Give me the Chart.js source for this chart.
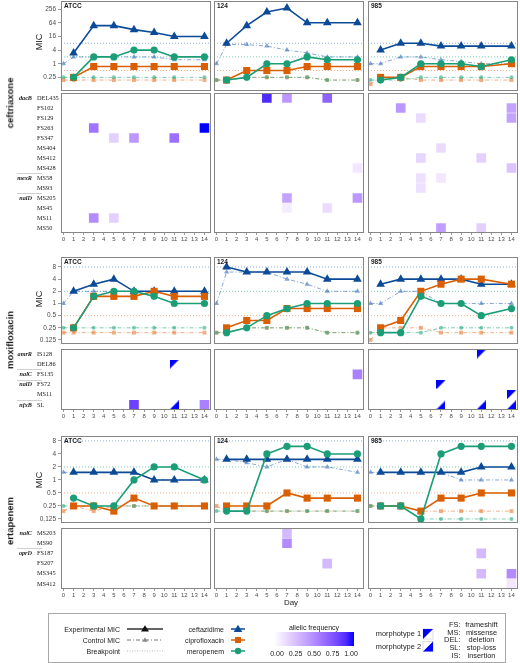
<!DOCTYPE html>
<html>
<head>
<meta charset="utf-8">
<title>MIC and allelic frequency</title>
<script src="https://cdn.jsdelivr.net/npm/chart.js"></script>
<style>
  body { margin: 0; background: #fff; }
  #page { position: relative; width: 520px; height: 663px; overflow: hidden; font-family: "Liberation Sans", Arial, sans-serif; color: #1a1a1a; }
  #page canvas { position: absolute; }
  .t { position: absolute; white-space: nowrap; line-height: 1; }
  .rot { position: absolute; white-space: nowrap; line-height: 1; transform: translate(-50%, -50%) rotate(-90deg); }
  #legendBox { position: absolute; left: 48px; top: 613px; width: 456px; height: 48px; border: 1px solid #a8a8a8; }
  #grad { position: absolute; left: 274px; top: 632px; width: 80px; height: 14px; }
</style>
</head>
<body>
<div id="page"><div id="legendBox"></div><div id="grad"></div></div>
<script>
// ---- data ----
const days = [0, 1, 3, 5, 7, 9, 11, 14];
const dayTicks = [0, 1, 2, 3, 4, 5, 6, 7, 8, 9, 10, 11, 12, 13, 14];
const strains = ['ATCC', '124', '985'];
const drugRows = ['ceftriaxone', 'moxifloxacin', 'ertapenem'];
const cefMicTicks = [0.25, 1, 4, 16, 64, 256];
const otherMicTicks = [0.125, 0.25, 0.5, 1, 2, 4, 8];
const bpDrugs = ['ceftazidime', 'ciprofloxacin', 'meropenem'];
const bpValues = [8, 0.5, 2];

// ceftriaxone
const cefAtccCaz = [null, 3, 48, 48, 32, 24, 16, 16];
const cefAtccCip = [null, 0.25, 0.75, 0.75, 0.75, 0.75, 0.75, 0.75];
const cefAtccMer = [null, 0.25, 2, 2, 4, 4, 2, 2];
const cefAtccCazCtl = [1, 2, 2, 2, 2, 2, 1.5, 1.5];
const cefAtccCipCtl = [0.19, 0.19, 0.19, 0.19, 0.19, 0.19, 0.19, 0.19];
const cefAtccMerCtl = [0.25, 0.25, 0.25, 0.25, 0.25, 0.25, 0.25, 0.25];
const cef124Caz = [null, 8, 48, 192, 288, 64, 64, 64];
const cef124Cip = [null, 0.19, 0.5, 0.5, 0.5, 0.75, 0.75, 0.75];
const cef124Mer = [null, 0.19, 0.25, 1, 1, 2, 1.5, 1.5];
const cef124CazCtl = [1, 7, 7, 6, 4, 3, 2, 2];
const cef124CipCtl = [0.19, 0.19, 0.25, 0.25, 0.25, 0.25, 0.19, 0.19];
const cef124MerCtl = [0.19, 0.19, 0.25, 0.25, 0.25, 0.25, 0.19, 0.19];
const cef985Caz = [null, 4, 8, 8, 6, 6, 6, 6];
const cef985Cip = [null, 0.25, 0.25, 0.75, 0.75, 0.75, 0.75, 1];
const cef985Mer = [null, 0.19, 0.25, 1, 1, 1, 0.75, 1.5];
const cef985CazCtl = [1, 1, 2, 2, 1.5, 1.25, 1, 1];
const cef985CipCtl = [0.125, 0.25, 0.25, 0.19, 0.19, 0.19, 0.19, 0.19];
const cef985MerCtl = [0.19, 0.19, 0.19, 0.25, 0.25, 0.25, 0.25, 0.25];

// moxifloxacin
const moxAtccCaz = [null, 2, 3, 4, 2, 2, 2, 2];
const moxAtccCip = [null, 0.25, 1.5, 1.5, 1.5, 2, 1.5, 1.5];
const moxAtccMer = [null, 0.25, 1.5, 2, 2, 1.5, 1, 1];
const moxAtccCazCtl = [1, 2, 2, 2, 2, 2, 2, 2];
const moxAtccCipCtl = [0.19, 0.19, 0.19, 0.19, 0.19, 0.19, 0.19, 0.19];
const moxAtccMerCtl = [0.25, 0.25, 0.25, 0.25, 0.25, 0.25, 0.25, 0.25];
const mox124Caz = [null, 8, 6, 6, 6, 6, 4, 4];
const mox124Cip = [null, 0.25, 0.38, 0.38, 0.75, 0.75, 0.75, 0.75];
const mox124Mer = [null, 0.19, 0.25, 0.5, 0.75, 1, 1, 1];
const mox124CazCtl = [1, 6, 6, 6, 4, 3, 2, 2];
const mox124CipCtl = [0.19, 0.19, 0.25, 0.25, 0.25, 0.25, 0.19, 0.19];
const mox124MerCtl = [0.19, 0.19, 0.25, 0.25, 0.25, 0.25, 0.19, 0.19];
const mox985Caz = [null, 3, 4, 4, 4, 4, 3, 3];
const mox985Cip = [null, 0.25, 0.38, 2, 3, 4, 4, 3];
const mox985Mer = [null, 0.19, 0.19, 1.5, 1, 1, 0.5, 0.75];
const mox985CazCtl = [1, 1, 2, 2, 1, 1, 1, 1];
const mox985CipCtl = [0.125, 0.25, 0.25, 0.25, 0.19, 0.19, 0.19, 0.19];
const mox985MerCtl = [0.19, 0.19, 0.19, 0.19, 0.25, 0.25, 0.25, 0.25];

// ertapenem
const ertAtccCaz = [null, 1.5, 1.5, 1.5, 1.5, 1, 1, 1];
const ertAtccCip = [null, 0.25, 0.25, 0.19, 0.38, 0.25, 0.25, 0.25];
const ertAtccMer = [null, 0.38, 0.25, 0.25, 1, 2, 2, 1];
const ertAtccCazCtl = [1.5, 1.5, 1.5, 1.5, 1.5, 1, 1, 1];
const ertAtccCipCtl = [0.19, 0.25, 0.19, 0.25, 0.25, 0.25, 0.25, 0.25];
const ertAtccMerCtl = [0.25, 0.25, 0.25, 0.25, 0.25, 0.25, 0.25, 0.25];
const ert124Caz = [null, 3, 3, 3, 3, 3, 3, 3];
const ert124Cip = [null, 0.25, 0.25, 0.25, 0.5, 0.38, 0.38, 0.38];
const ert124Mer = [null, 0.19, 0.19, 4, 6, 6, 4, 4];
const ert124CazCtl = [3, 3, 2.5, 2, 3, 2, 2, 1.5];
const ert124CipCtl = [0.25, 0.19, 0.19, 0.19, 0.19, 0.19, 0.19, 0.19];
const ert124MerCtl = [0.19, 0.19, 0.19, 0.19, 0.19, 0.19, 0.19, 0.19];
const ert985Caz = [null, 1.5, 1.5, 1.5, 1.5, 1.5, 2, 2];
const ert985Cip = [null, 0.25, 0.25, 0.19, 0.38, 0.38, 0.5, 0.5];
const ert985Mer = [null, 0.25, 0.25, 0.125, 4, 6, 6, 6];
const ert985CazCtl = [1.5, 1.5, 1.5, 1.5, 1.5, 1, 1, 1];
const ert985CipCtl = [0.25, 0.25, 0.25, 0.19, 0.19, 0.19, 0.19, 0.19];
const ert985MerCtl = [0.25, 0.25, 0.25, 0.125, 0.125, 0.125, 0.125, 0.125];

// mutations (rows of the heatmaps) and gene groups
const cefMutations = ['DEL435', 'FS102', 'FS129', 'FS263', 'FS347', 'MS404', 'MS412', 'MS428', 'MS58', 'MS93', 'MS205', 'MS45', 'MS11', 'MS50'];
const cefGenes = [['dacB', 'DEL435'], ['mexR', 'MS58'], ['nalD', 'MS205']];
const moxMutations = ['IS128', 'DEL86', 'FS135', 'FS72', 'MS11', 'SL'];
const moxGenes = [['amrR', 'IS128'], ['nalC', 'FS135'], ['nalD', 'FS72'], ['nfxB', 'SL']];
const ertMutations = ['MS203', 'MS90', 'FS187', 'FS207', 'MS345', 'MS412'];
const ertGenes = [['nalC', 'MS203'], ['oprD', 'FS187']];

// allelic frequency tiles: [day, mutation, frequency]
const cefAtccFreq = [[3, 'FS263', 0.6], [14, 'FS263', 1.0], [5, 'FS347', 0.2], [7, 'FS347', 0.45], [11, 'FS347', 0.62], [3, 'MS11', 0.5], [5, 'MS11', 0.2]];
const cef124Freq = [[5, 'DEL435', 0.9], [7, 'DEL435', 0.45], [11, 'DEL435', 0.68], [14, 'MS428', 0.1], [7, 'MS205', 0.4], [14, 'MS205', 0.45], [7, 'MS45', 0.08], [11, 'MS45', 0.15]];
const cef985Freq = [[3, 'FS102', 0.45], [14, 'FS102', 0.4], [14, 'FS129', 0.4], [5, 'FS129', 0.15], [7, 'MS404', 0.15], [5, 'MS412', 0.18], [11, 'MS412', 0.2], [14, 'MS428', 0.25], [5, 'MS58', 0.13], [5, 'MS93', 0.13], [7, 'MS58', 0.1], [7, 'MS50', 0.42], [11, 'MS50', 0.2]];
const moxAtccFreq = [[7, 'SL', 0.82], [14, 'SL', 0.55]];
const mox124Freq = [[14, 'FS135', 0.55]];
const mox985Freq = [];
const ertAtccFreq = [];
const ert124Freq = [[7, 'MS203', 0.3], [7, 'MS90', 0.5], [11, 'FS207', 0.3]];
const ert985Freq = [[11, 'FS187', 0.3], [11, 'MS345', 0.3], [14, 'MS345', 0.5], [14, 'MS412', 0.1]];

// morphotype-resolved calls: [day, mutation, morphotype]
const moxAtccMorph = [[11, 'DEL86', 1], [11, 'SL', 2]];
const mox124Morph = [];
const mox985Morph = [[11, 'IS128', 1], [7, 'FS72', 1], [14, 'MS11', 1], [7, 'SL', 2], [11, 'SL', 2], [14, 'SL', 2]];

// ---- tables built from the arrays ----
const micRows = [
  [[cefAtccCaz, cefAtccCip, cefAtccMer, cefAtccCazCtl, cefAtccCipCtl, cefAtccMerCtl],
   [cef124Caz, cef124Cip, cef124Mer, cef124CazCtl, cef124CipCtl, cef124MerCtl],
   [cef985Caz, cef985Cip, cef985Mer, cef985CazCtl, cef985CipCtl, cef985MerCtl]],
  [[moxAtccCaz, moxAtccCip, moxAtccMer, moxAtccCazCtl, moxAtccCipCtl, moxAtccMerCtl],
   [mox124Caz, mox124Cip, mox124Mer, mox124CazCtl, mox124CipCtl, mox124MerCtl],
   [mox985Caz, mox985Cip, mox985Mer, mox985CazCtl, mox985CipCtl, mox985MerCtl]],
  [[ertAtccCaz, ertAtccCip, ertAtccMer, ertAtccCazCtl, ertAtccCipCtl, ertAtccMerCtl],
   [ert124Caz, ert124Cip, ert124Mer, ert124CazCtl, ert124CipCtl, ert124MerCtl],
   [ert985Caz, ert985Cip, ert985Mer, ert985CazCtl, ert985CipCtl, ert985MerCtl]]
];
const heatRows = [
  {muts: cefMutations, genes: cefGenes, freq: [cefAtccFreq, cef124Freq, cef985Freq], morph: [[], [], []]},
  {muts: moxMutations, genes: moxGenes, freq: [moxAtccFreq, mox124Freq, mox985Freq], morph: [moxAtccMorph, mox124Morph, mox985Morph]},
  {muts: ertMutations, genes: ertGenes, freq: [ertAtccFreq, ert124Freq, ert985Freq], morph: [[], [], []]}
];

// ---- layout ----
const W = 150;
const colLeft = [61, 214, 368];
const xMin = -0.25, xMax = 14.65;
const rowGeom = [
  {micTop: 1, micH: 90, lo: -4.0, hi: 9.2, ticks: cefMicTicks, heatTop: 93, heatH: 140, micY: 42, labelY: 103},
  {micTop: 257, micH: 87, lo: -3.33, hi: 3.82, ticks: otherMicTicks, heatTop: 349, heatH: 61, micY: 299, labelY: 340},
  {micTop: 436, micH: 87, lo: -3.31, hi: 3.38, ticks: otherMicTicks, heatTop: 528, heatH: 61, micY: 480, labelY: 521}
];

const drugColor = ['#0b4a96', '#d95f02', '#1b9e77'];
const ctlColor = ['rgba(70,120,190,0.65)', 'rgba(232,125,55,0.6)', 'rgba(40,170,130,0.6)'];
const bpColor = ['rgba(110,155,215,0.8)', 'rgba(240,160,110,0.8)', 'rgba(90,195,165,0.8)'];
const markStyle = ['triangle', 'rect', 'circle'];
const markR = [5, 5, 3.6];
const ctlR = [3, 2.8, 2];
const drawOrder = [3, 2, 1];

const page = document.getElementById('page');
Chart.defaults.font.family = '"Liberation Sans", Arial, sans-serif';

// white -> blue in Lab, like ggplot's gradient
function toLin(c) { c /= 255; return c <= 0.04045 ? c / 12.92 : Math.pow((c + 0.055) / 1.055, 2.4); }
function fromLin(c) { c = c <= 0.0031308 ? 12.92 * c : 1.055 * Math.pow(c, 1 / 2.4) - 0.055; return Math.round(Math.max(0, Math.min(1, c)) * 255); }
function rgbToLab(rgb) {
  const [r, g, b] = rgb.map(toLin);
  const X = (0.4124 * r + 0.3576 * g + 0.1805 * b) / 0.95047, Y = 0.2126 * r + 0.7152 * g + 0.0722 * b, Z = (0.0193 * r + 0.1192 * g + 0.9505 * b) / 1.08883;
  const f = t => t > 0.008856 ? Math.cbrt(t) : 7.787 * t + 16 / 116;
  return [116 * f(Y) - 16, 500 * (f(X) - f(Y)), 200 * (f(Y) - f(Z))];
}
function labToRgb([L, a, b]) {
  const fy = (L + 16) / 116, fx = fy + a / 500, fz = fy - b / 200;
  const inv = t => t * t * t > 0.008856 ? t * t * t : (t - 16 / 116) / 7.787;
  const X = inv(fx) * 0.95047, Y = inv(fy), Z = inv(fz) * 1.08883;
  return [fromLin(3.2406 * X - 1.5372 * Y - 0.4986 * Z), fromLin(-0.9689 * X + 1.8758 * Y + 0.0415 * Z), fromLin(0.0557 * X - 0.2040 * Y + 1.0570 * Z)];
}
const labLow = rgbToLab([255, 255, 255]), labHigh = rgbToLab([0, 0, 255]);
function freqColor(f) {
  const c = labToRgb(labLow.map((v, i) => v + (labHigh[i] - v) * f));
  return `rgb(${c[0]},${c[1]},${c[2]})`;
}

function addCanvas(left, top, w, h) {
  const cv = document.createElement('canvas');
  cv.width = w; cv.height = h;
  cv.style.left = left + 'px'; cv.style.top = top + 'px';
  cv.style.width = w + 'px'; cv.style.height = h + 'px';
  page.appendChild(cv);
  return cv;
}

function addText(str, x, y, o = {}) {
  const d = document.createElement('div');
  const size = o.size || 7;
  d.className = o.rot ? 'rot' : 't';
  d.textContent = str;
  d.style.fontSize = size + 'px';
  if (o.bold) d.style.fontWeight = 'bold';
  if (o.color) d.style.color = o.color;
  if (o.rot) { d.style.left = x + 'px'; d.style.top = y + 'px'; }
  else {
    d.style.top = (y - size / 2) + 'px';
    if (o.align === 'right') d.style.right = (520 - x) + 'px';
    else if (o.align === 'center') { d.style.left = x + 'px'; d.style.transform = 'translateX(-50%)'; }
    else d.style.left = x + 'px';
  }
  page.appendChild(d);
}

const framePlugin = {
  id: 'frame',
  afterDraw(chart) {
    const {ctx, chartArea: a} = chart;
    ctx.save();
    ctx.strokeStyle = '#858585';
    ctx.lineWidth = 1;
    ctx.strokeRect(a.left + 0.5, a.top + 0.5, a.width - 1, a.height - 1);
    ctx.restore();
  }
};

function genePlugin(groups, muts) {
  return {
    id: 'genes',
    afterDraw(chart) {
      const ctx = chart.ctx, ys = chart.scales.y, left = chart.chartArea.left;
      const step = ys.getPixelForValue(1) - ys.getPixelForValue(0);
      ctx.save();
      ctx.font = 'italic bold 6.2px "Liberation Serif"';
      ctx.fillStyle = '#1a1a1a';
      ctx.textAlign = 'right';
      ctx.textBaseline = 'middle';
      groups.forEach(([gene, first], gi) => {
        const py = ys.getPixelForValue(muts.indexOf(first));
        ctx.fillText(gene, left - 29, py);
        if (gi > 0) {
          const sy = Math.round(py - step / 2) + 0.5;
          ctx.strokeStyle = '#c4c4c4';
          ctx.lineWidth = 0.8;
          ctx.beginPath();
          ctx.moveTo(left - 44, sy);
          ctx.lineTo(left - 19, sy);
          ctx.stroke();
        }
      });
      ctx.restore();
    }
  };
}

function pts(vals) {
  return days.map((d, i) => ({x: d, y: vals[i]})).filter(p => p.y != null);
}

function micDatasets(set) {
  const ds = [];
  for (let k = 0; k < 3; k++) {
    ds.push({
      label: bpDrugs[k], data: pts(set[k]), borderColor: drugColor[k], borderWidth: 1.6,
      pointStyle: markStyle[k], pointRadius: markR[k], pointBackgroundColor: drugColor[k],
      pointBorderWidth: 0, order: drawOrder[k]
    });
    ds.push({
      label: bpDrugs[k] + ' control', data: pts(set[k + 3]), borderColor: ctlColor[k], borderWidth: 1,
      borderDash: [4, 2, 1, 2], pointStyle: markStyle[k], pointRadius: ctlR[k],
      pointBackgroundColor: ctlColor[k], pointBorderWidth: 0, order: 4 + drawOrder[k]
    });
    ds.push({
      label: bpDrugs[k] + ' breakpoint', data: [{x: xMin, y: bpValues[k]}, {x: xMax, y: bpValues[k]}],
      borderColor: bpColor[k], borderWidth: 1, borderDash: [1, 2], pointRadius: 0, order: 8 + k
    });
  }
  return ds;
}

function baseOptions(padLeft) {
  return {
    responsive: false, animation: false, events: [],
    layout: {padding: {left: padLeft || 0, right: 0, top: 0, bottom: 0}, autoPadding: false},
    plugins: {legend: {display: false}, tooltip: {enabled: false}}
  };
}

function micChart(r, c) {
  const g = rowGeom[r];
  const yw = c === 0 ? 31 : 0;
  const cv = addCanvas(colLeft[c] - yw, g.micTop, W + yw, g.micH);
  const yScale = c === 0 ? {
    type: 'logarithmic', min: Math.pow(2, g.lo), max: Math.pow(2, g.hi), bounds: 'data',
    afterBuildTicks: s => { s.ticks = g.ticks.map(v => ({value: v})); },
    afterFit: s => { s.width = yw; s.paddingTop = 0; s.paddingBottom = 0; },
    border: {display: false},
    grid: {drawOnChartArea: false, tickLength: 3, color: '#7f7f7f', lineWidth: 0.8},
    ticks: {font: {size: 6.5}, color: '#4d4d4d', padding: 2, callback: v => String(v)}
  } : {type: 'logarithmic', min: Math.pow(2, g.lo), max: Math.pow(2, g.hi), display: false};
  const opts = baseOptions(0);
  opts.scales = {x: {type: 'linear', min: xMin, max: xMax, display: false}, y: yScale};
  new Chart(cv, {type: 'line', data: {datasets: micDatasets(micRows[r][c])}, options: opts, plugins: [framePlugin]});
  addText(strains[c], colLeft[c] + 3, g.micTop + 5.5, {size: 6.5, bold: true});
}

function triCanvas(type) {
  const c = document.createElement('canvas');
  c.width = 9; c.height = 9;
  const g = c.getContext('2d');
  g.fillStyle = '#0000ff';
  g.beginPath();
  if (type === 1) { g.moveTo(0, 0); g.lineTo(9, 0); g.lineTo(0, 9); }
  else { g.moveTo(9, 0); g.lineTo(9, 9); g.lineTo(0, 9); }
  g.closePath();
  g.fill();
  return c;
}
const morphIcon = [null, triCanvas(1), triCanvas(2)];

function heatChart(r, c) {
  const g = rowGeom[r], h = heatRows[r];
  const pad = c === 0 ? 23 : 0, yw = c === 0 ? 24 : 0;
  const cv = addCanvas(colLeft[c] - pad - yw, g.heatTop, W + pad + yw, g.heatH + 10);
  const yScale = c === 0 ? {
    type: 'category', labels: h.muts, offset: true,
    afterFit: s => { s.width = yw; s.paddingTop = 0; s.paddingBottom = 0; },
    border: {display: false}, grid: {display: false, drawTicks: false},
    ticks: {crossAlign: 'far', padding: 0, autoSkip: false, font: {size: 6.3, family: '"Liberation Serif", serif'}, color: '#1a1a1a'}
  } : {type: 'category', labels: h.muts, offset: true, display: false};
  const opts = baseOptions(pad);
  opts.scales = {
    x: {
      type: 'linear', min: xMin, max: xMax, bounds: 'data',
      afterBuildTicks: s => { s.ticks = dayTicks.map(v => ({value: v})); },
      afterFit: s => { s.height = 10; s.paddingLeft = 0; s.paddingRight = 0; },
      border: {display: false},
      grid: {drawOnChartArea: false, tickLength: 2, color: '#7f7f7f', lineWidth: 0.8},
      ticks: {autoSkip: false, maxRotation: 0, minRotation: 0, padding: 0.5, font: {size: 6}, color: '#4d4d4d'}
    },
    y: yScale
  };
  const datasets = [
    {
      label: 'allelic frequency', data: h.freq[c].map(([d, m, f]) => ({x: d, y: m, f: f})),
      pointStyle: 'rect', pointRadius: 6.8, pointBorderWidth: 0,
      pointBackgroundColor: ctx => ctx.raw ? freqColor(ctx.raw.f) : '#fff'
    },
    {
      label: 'morphotype', data: h.morph[c].map(([d, m, t]) => ({x: d, y: m, t: t})),
      pointRadius: 5, pointBorderWidth: 0,
      pointStyle: ctx => ctx.raw ? morphIcon[ctx.raw.t] : 'circle'
    }
  ];
  const plugins = [framePlugin];
  if (c === 0) plugins.push(genePlugin(h.genes, h.muts));
  new Chart(cv, {type: 'scatter', data: {datasets}, options: opts, plugins});
}

for (let r = 0; r < 3; r++) {
  for (let c = 0; c < 3; c++) { micChart(r, c); heatChart(r, c); }
  const g = rowGeom[r];
  addText('MIC', 38.5, g.micY, {rot: true, size: 9});
  addText(drugRows[r], 10, g.labelY, {rot: true, size: 9.5, bold: true});
}
addText('Day', 291, 603, {align: 'center', size: 8});

// ---- legend ----
addText('Experimental MIC', 120, 629, {align: 'right'});
addText('Control MIC', 120, 640, {align: 'right'});
addText('Breakpoint', 120, 651, {align: 'right'});
addText('ceftazidime', 224, 629, {align: 'right'});
addText('ciprofloxacin', 224, 640, {align: 'right'});
addText('meropenem', 224, 651, {align: 'right'});
addText('allelic frequency', 314, 627, {align: 'center'});
['0.00', '0.25', '0.50', '0.75', '1.00'].forEach((s, i) => addText(s, 277 + i * 18.5, 653.5, {align: 'center'}));
addText('morphotype 1', 421, 634, {align: 'right', size: 7.4});
addText('morphotype 2', 421, 646.5, {align: 'right', size: 7.4});
const abbr = [['FS:', 'frameshift'], ['MS:', 'missense'], ['DEL:', 'deletion'], ['SL:', 'stop-loss'], ['IS:', 'insertion']];
abbr.forEach(([a, b], i) => {
  const y = 624.7 + i * 7.65;
  addText(a, 460.5, y, {align: 'right', size: 7.4});
  addText(b, 481.5, y, {align: 'center', size: 7.4});
});

const stops = [];
for (let i = 0; i <= 10; i++) stops.push(freqColor(i / 10) + ' ' + (i * 10) + '%');
document.getElementById('grad').style.background = 'linear-gradient(to right, ' + stops.join(', ') + ')';

page.insertAdjacentHTML('beforeend', `
<svg width="520" height="63" viewBox="0 600 520 63" style="position:absolute;left:0;top:600px">
  <line x1="127" y1="629" x2="163" y2="629" stroke="#333" stroke-width="1.5"/>
  <polygon points="145,625.2 149,631.6 141,631.6" fill="#111"/>
  <line x1="127" y1="640" x2="163" y2="640" stroke="#777" stroke-width="1" stroke-dasharray="4 2 1 2"/>
  <polygon points="145,637.2 147.8,641.8 142.2,641.8" fill="#888"/>
  <line x1="127" y1="651" x2="163" y2="651" stroke="#bbb" stroke-width="1" stroke-dasharray="1 1.5"/>
  <line x1="231" y1="629" x2="245" y2="629" stroke="${drugColor[0]}" stroke-width="1.5"/>
  <polygon points="238,624.8 242.3,632 233.7,632" fill="${drugColor[0]}"/>
  <line x1="231" y1="640" x2="245" y2="640" stroke="${drugColor[1]}" stroke-width="1.5"/>
  <rect x="235" y="637" width="6" height="6" fill="${drugColor[1]}"/>
  <line x1="231" y1="651" x2="245" y2="651" stroke="${drugColor[2]}" stroke-width="1.5"/>
  <circle cx="238" cy="651" r="3.2" fill="${drugColor[2]}"/>
  <rect x="423" y="629" width="10" height="10" fill="#fff" stroke="#c8c8c8" stroke-width="0.6"/>
  <polygon points="423,629 433,629 423,639" fill="#0000ff"/>
  <rect x="423" y="641.5" width="10" height="10" fill="#fff" stroke="#c8c8c8" stroke-width="0.6"/>
  <polygon points="433,641.5 433,651.5 423,651.5" fill="#0000ff"/>
</svg>`);
</script>
</body>
</html>
